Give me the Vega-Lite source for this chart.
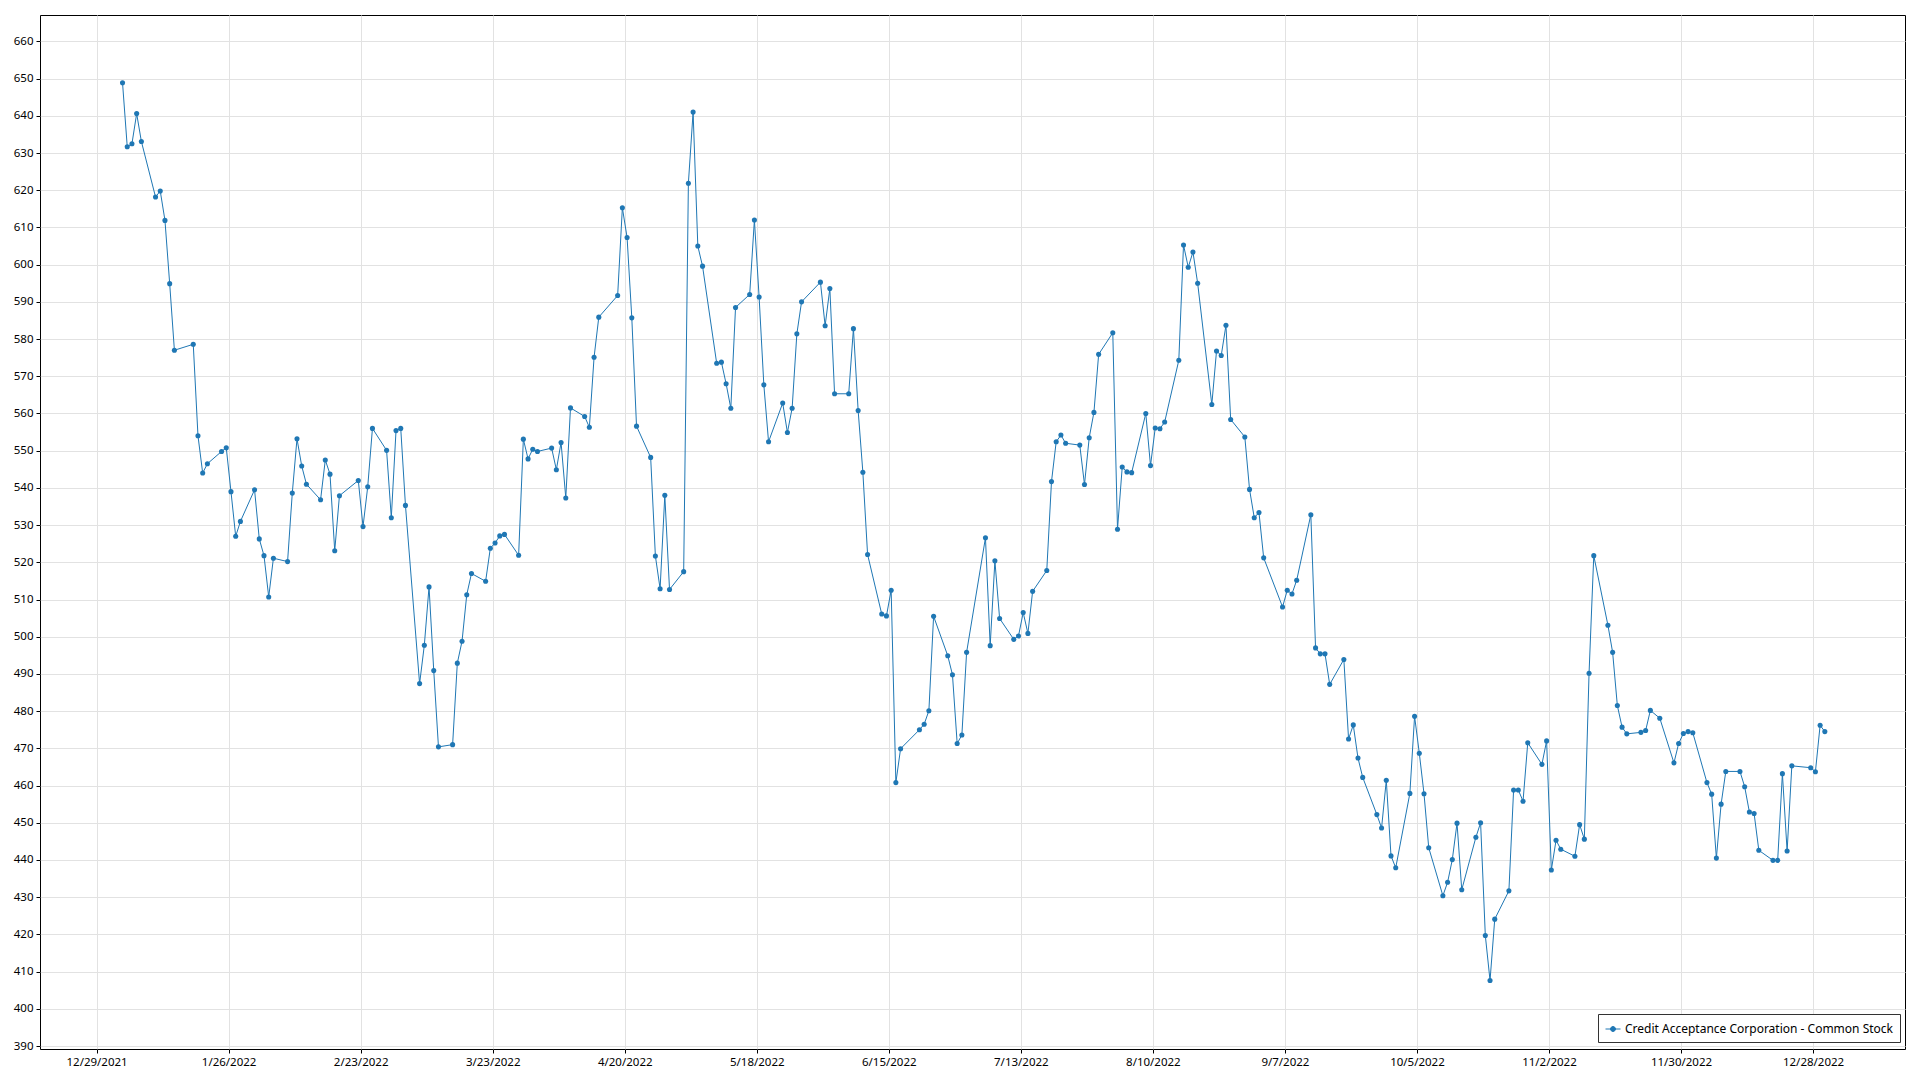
{
  "$schema": "https://vega.github.io/schema/vega-lite/v6.json",
  "width": 1865,
  "height": 1034,
  "autosize": {"type": "none"},
  "padding": {"left": 40, "top": 15, "right": 15, "bottom": 31},
  "background": "white",
  "config": {"view": {"stroke": "#000000", "strokeWidth": 1}, "font": "Noto Sans"},
  "data": {"values": [
    {"d":"2022-01-03","v":648.9},{"d":"2022-01-04","v":631.7},{"d":"2022-01-05","v":632.5},{"d":"2022-01-06","v":640.6},{"d":"2022-01-07","v":633.1},
    {"d":"2022-01-10","v":618.2},{"d":"2022-01-11","v":619.8},{"d":"2022-01-12","v":611.9},{"d":"2022-01-13","v":594.9},{"d":"2022-01-14","v":577.0},
    {"d":"2022-01-18","v":578.6},{"d":"2022-01-19","v":554.0},{"d":"2022-01-20","v":544.0},{"d":"2022-01-21","v":546.5},
    {"d":"2022-01-24","v":549.8},{"d":"2022-01-25","v":550.8},{"d":"2022-01-26","v":539.0},{"d":"2022-01-27","v":527.0},{"d":"2022-01-28","v":531.0},
    {"d":"2022-01-31","v":539.5},{"d":"2022-02-01","v":526.3},{"d":"2022-02-02","v":521.8},{"d":"2022-02-03","v":510.7},{"d":"2022-02-04","v":521.1},
    {"d":"2022-02-07","v":520.2},{"d":"2022-02-08","v":538.6},{"d":"2022-02-09","v":553.2},{"d":"2022-02-10","v":545.9},{"d":"2022-02-11","v":541.0},
    {"d":"2022-02-14","v":536.8},{"d":"2022-02-15","v":547.5},{"d":"2022-02-16","v":543.7},{"d":"2022-02-17","v":523.1},{"d":"2022-02-18","v":537.9},
    {"d":"2022-02-22","v":542.0},{"d":"2022-02-23","v":529.6},{"d":"2022-02-24","v":540.3},{"d":"2022-02-25","v":556.0},
    {"d":"2022-02-28","v":550.1},{"d":"2022-03-01","v":532.0},{"d":"2022-03-02","v":555.4},{"d":"2022-03-03","v":556.0},{"d":"2022-03-04","v":535.3},
    {"d":"2022-03-07","v":487.4},{"d":"2022-03-08","v":497.7},{"d":"2022-03-09","v":513.4},{"d":"2022-03-10","v":490.9},{"d":"2022-03-11","v":470.4},
    {"d":"2022-03-14","v":471.0},{"d":"2022-03-15","v":492.9},{"d":"2022-03-16","v":498.8},{"d":"2022-03-17","v":511.3},{"d":"2022-03-18","v":517.0},
    {"d":"2022-03-21","v":514.9},{"d":"2022-03-22","v":523.8},{"d":"2022-03-23","v":525.2},{"d":"2022-03-24","v":527.1},{"d":"2022-03-25","v":527.5},
    {"d":"2022-03-28","v":521.9},{"d":"2022-03-29","v":553.1},{"d":"2022-03-30","v":547.8},{"d":"2022-03-31","v":550.4},{"d":"2022-04-01","v":549.8},
    {"d":"2022-04-04","v":550.7},{"d":"2022-04-05","v":544.9},{"d":"2022-04-06","v":552.2},{"d":"2022-04-07","v":537.3},{"d":"2022-04-08","v":561.5},
    {"d":"2022-04-11","v":559.2},{"d":"2022-04-12","v":556.3},{"d":"2022-04-13","v":575.1},{"d":"2022-04-14","v":585.9},
    {"d":"2022-04-18","v":591.7},{"d":"2022-04-19","v":615.3},{"d":"2022-04-20","v":607.3},{"d":"2022-04-21","v":585.7},{"d":"2022-04-22","v":556.6},
    {"d":"2022-04-25","v":548.2},{"d":"2022-04-26","v":521.7},{"d":"2022-04-27","v":512.9},{"d":"2022-04-28","v":538.0},{"d":"2022-04-29","v":512.7},
    {"d":"2022-05-02","v":517.5},{"d":"2022-05-03","v":621.9},{"d":"2022-05-04","v":641.0},{"d":"2022-05-05","v":605.0},{"d":"2022-05-06","v":599.6},
    {"d":"2022-05-09","v":573.5},{"d":"2022-05-10","v":573.8},{"d":"2022-05-11","v":568.0},{"d":"2022-05-12","v":561.4},{"d":"2022-05-13","v":588.5},
    {"d":"2022-05-16","v":592.0},{"d":"2022-05-17","v":612.0},{"d":"2022-05-18","v":591.3},{"d":"2022-05-19","v":567.7},{"d":"2022-05-20","v":552.4},
    {"d":"2022-05-23","v":562.8},{"d":"2022-05-24","v":554.9},{"d":"2022-05-25","v":561.4},{"d":"2022-05-26","v":581.4},{"d":"2022-05-27","v":590.0},
    {"d":"2022-05-31","v":595.3},{"d":"2022-06-01","v":583.6},{"d":"2022-06-02","v":593.6},{"d":"2022-06-03","v":565.3},
    {"d":"2022-06-06","v":565.3},{"d":"2022-06-07","v":582.8},{"d":"2022-06-08","v":560.8},{"d":"2022-06-09","v":544.2},{"d":"2022-06-10","v":522.1},
    {"d":"2022-06-13","v":506.1},{"d":"2022-06-14","v":505.6},{"d":"2022-06-15","v":512.5},{"d":"2022-06-16","v":460.8},{"d":"2022-06-17","v":469.9},
    {"d":"2022-06-21","v":475.0},{"d":"2022-06-22","v":476.5},{"d":"2022-06-23","v":480.1},{"d":"2022-06-24","v":505.5},
    {"d":"2022-06-27","v":494.9},{"d":"2022-06-28","v":489.8},{"d":"2022-06-29","v":471.3},{"d":"2022-06-30","v":473.6},{"d":"2022-07-01","v":495.8},
    {"d":"2022-07-05","v":526.6},{"d":"2022-07-06","v":497.6},{"d":"2022-07-07","v":520.4},{"d":"2022-07-08","v":504.9},
    {"d":"2022-07-11","v":499.3},{"d":"2022-07-12","v":500.2},{"d":"2022-07-13","v":506.5},{"d":"2022-07-14","v":500.9},{"d":"2022-07-15","v":512.2},
    {"d":"2022-07-18","v":517.8},{"d":"2022-07-19","v":541.7},{"d":"2022-07-20","v":552.4},{"d":"2022-07-21","v":554.2},{"d":"2022-07-22","v":552.0},
    {"d":"2022-07-25","v":551.5},{"d":"2022-07-26","v":540.9},{"d":"2022-07-27","v":553.5},{"d":"2022-07-28","v":560.3},{"d":"2022-07-29","v":575.9},
    {"d":"2022-08-01","v":581.7},{"d":"2022-08-02","v":528.9},{"d":"2022-08-03","v":545.6},{"d":"2022-08-04","v":544.3},{"d":"2022-08-05","v":544.1},
    {"d":"2022-08-08","v":560.0},{"d":"2022-08-09","v":546.0},{"d":"2022-08-10","v":556.1},{"d":"2022-08-11","v":555.9},{"d":"2022-08-12","v":557.7},
    {"d":"2022-08-15","v":574.3},{"d":"2022-08-16","v":605.3},{"d":"2022-08-17","v":599.3},{"d":"2022-08-18","v":603.4},{"d":"2022-08-19","v":595.0},
    {"d":"2022-08-22","v":562.4},{"d":"2022-08-23","v":576.8},{"d":"2022-08-24","v":575.6},{"d":"2022-08-25","v":583.7},{"d":"2022-08-26","v":558.4},
    {"d":"2022-08-29","v":553.7},{"d":"2022-08-30","v":539.6},{"d":"2022-08-31","v":532.0},{"d":"2022-09-01","v":533.4},{"d":"2022-09-02","v":521.2},
    {"d":"2022-09-06","v":508.0},{"d":"2022-09-07","v":512.5},{"d":"2022-09-08","v":511.5},{"d":"2022-09-09","v":515.2},
    {"d":"2022-09-12","v":532.8},{"d":"2022-09-13","v":497.0},{"d":"2022-09-14","v":495.4},{"d":"2022-09-15","v":495.4},{"d":"2022-09-16","v":487.2},
    {"d":"2022-09-19","v":493.9},{"d":"2022-09-20","v":472.5},{"d":"2022-09-21","v":476.3},{"d":"2022-09-22","v":467.4},{"d":"2022-09-23","v":462.2},
    {"d":"2022-09-26","v":452.2},{"d":"2022-09-27","v":448.6},{"d":"2022-09-28","v":461.4},{"d":"2022-09-29","v":441.1},{"d":"2022-09-30","v":437.9},
    {"d":"2022-10-03","v":457.9},{"d":"2022-10-04","v":478.6},{"d":"2022-10-05","v":468.7},{"d":"2022-10-06","v":457.8},{"d":"2022-10-07","v":443.3},
    {"d":"2022-10-10","v":430.4},{"d":"2022-10-11","v":434.0},{"d":"2022-10-12","v":440.1},{"d":"2022-10-13","v":449.9},{"d":"2022-10-14","v":432.0},
    {"d":"2022-10-17","v":446.1},{"d":"2022-10-18","v":450.0},{"d":"2022-10-19","v":419.7},{"d":"2022-10-20","v":407.6},{"d":"2022-10-21","v":424.1},
    {"d":"2022-10-24","v":431.7},{"d":"2022-10-25","v":458.8},{"d":"2022-10-26","v":458.8},{"d":"2022-10-27","v":455.8},{"d":"2022-10-28","v":471.5},
    {"d":"2022-10-31","v":465.7},{"d":"2022-11-01","v":472.0},{"d":"2022-11-02","v":437.3},{"d":"2022-11-03","v":445.3},{"d":"2022-11-04","v":442.9},
    {"d":"2022-11-07","v":441.0},{"d":"2022-11-08","v":449.5},{"d":"2022-11-09","v":445.6},{"d":"2022-11-10","v":490.2},{"d":"2022-11-11","v":521.8},
    {"d":"2022-11-14","v":503.1},{"d":"2022-11-15","v":495.8},{"d":"2022-11-16","v":481.5},{"d":"2022-11-17","v":475.7},{"d":"2022-11-18","v":473.9},
    {"d":"2022-11-21","v":474.3},{"d":"2022-11-22","v":474.8},{"d":"2022-11-23","v":480.2},{"d":"2022-11-25","v":478.1},
    {"d":"2022-11-28","v":466.1},{"d":"2022-11-29","v":471.3},{"d":"2022-11-30","v":474.0},{"d":"2022-12-01","v":474.5},{"d":"2022-12-02","v":474.2},
    {"d":"2022-12-05","v":460.8},{"d":"2022-12-06","v":457.7},{"d":"2022-12-07","v":440.5},{"d":"2022-12-08","v":455.0},{"d":"2022-12-09","v":463.8},
    {"d":"2022-12-12","v":463.8},{"d":"2022-12-13","v":459.7},{"d":"2022-12-14","v":452.9},{"d":"2022-12-15","v":452.5},{"d":"2022-12-16","v":442.6},
    {"d":"2022-12-19","v":439.9},{"d":"2022-12-20","v":439.9},{"d":"2022-12-21","v":463.2},{"d":"2022-12-22","v":442.4},{"d":"2022-12-23","v":465.3},
    {"d":"2022-12-27","v":464.8},{"d":"2022-12-28","v":463.7},{"d":"2022-12-29","v":476.2},{"d":"2022-12-30","v":474.5}
  ]},
  "mark": {"type": "line", "strokeWidth": 1, "point": {"filled": true, "size": 26}},
  "encoding": {
    "x": {
      "field": "d", "type": "temporal",
      "scale": {"type": "utc", "domain": [
        {"year": 2021, "month": 12, "date": 16, "hours": 12, "utc": true},
        {"year": 2023, "month": 1, "date": 16, "utc": true}]},
      "axis": {
        "title": null,
        "values": [
          {"year": 2021, "month": 12, "date": 28, "hours": 12, "utc": true},
          {"year": 2022, "month": 1, "date": 25, "hours": 12, "utc": true},
          {"year": 2022, "month": 2, "date": 22, "hours": 12, "utc": true},
          {"year": 2022, "month": 3, "date": 22, "hours": 12, "utc": true},
          {"year": 2022, "month": 4, "date": 19, "hours": 12, "utc": true},
          {"year": 2022, "month": 5, "date": 17, "hours": 12, "utc": true},
          {"year": 2022, "month": 6, "date": 14, "hours": 12, "utc": true},
          {"year": 2022, "month": 7, "date": 12, "hours": 12, "utc": true},
          {"year": 2022, "month": 8, "date": 9, "hours": 12, "utc": true},
          {"year": 2022, "month": 9, "date": 6, "hours": 12, "utc": true},
          {"year": 2022, "month": 10, "date": 4, "hours": 12, "utc": true},
          {"year": 2022, "month": 11, "date": 1, "hours": 12, "utc": true},
          {"year": 2022, "month": 11, "date": 29, "hours": 12, "utc": true},
          {"year": 2022, "month": 12, "date": 27, "hours": 12, "utc": true}
        ],
        "labelExpr": "utcFormat(datum.value + 43200000, '%-m/%-d/%Y')",
        "grid": true, "gridColor": "#e2e2e2", "gridWidth": 1,
        "domain": false, "ticks": true, "tickColor": "#000000", "tickSize": 4,
        "labelFontSize": 11.5, "labelColor": "#000000", "labelPadding": 3, "labelFlush": false
      }
    },
    "y": {
      "field": "v", "type": "quantitative",
      "scale": {"domain": [389.2, 667.1], "nice": false, "zero": false},
      "axis": {
        "title": null,
        "values": [390,400,410,420,430,440,450,460,470,480,490,500,510,520,530,540,550,560,570,580,590,600,610,620,630,640,650,660],
        "grid": true, "gridColor": "#e2e2e2", "gridWidth": 1,
        "domain": false, "ticks": true, "tickColor": "#000000", "tickSize": 4,
        "labelFontSize": 11.5, "labelColor": "#000000", "labelPadding": 3
      }
    },
    "color": {
      "datum": "Credit Acceptance Corporation - Common Stock",
      "scale": {"range": ["#1f77b4"]},
      "legend": {
        "title": null, "orient": "none", "legendX": 1558, "legendY": 999,
        "strokeColor": "#333333", "fillColor": "#ffffff", "padding": 7,
        "symbolType": "M-1,0H1M-0.33,0A0.33,0.33 0 1,1 0.33,0A0.33,0.33 0 1,1 -0.33,0Z",
        "symbolSize": 225, "symbolStrokeWidth": 1,
        "labelFontSize": 12, "labelColor": "#000000", "labelLimit": 0,
        "encode": {"symbols": {"update": {"fill": {"value": "#1f77b4"}, "stroke": {"value": "#1f77b4"}}}}
      }
    }
  }
}
